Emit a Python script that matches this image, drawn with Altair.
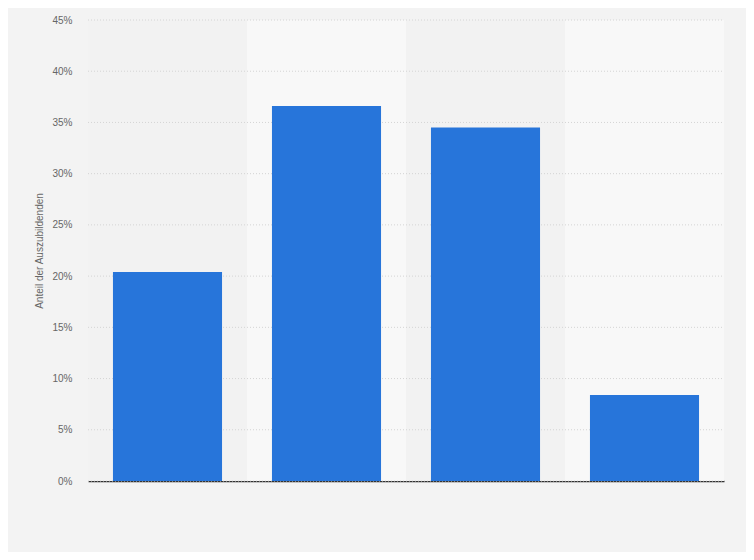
import altair as alt
import pandas as pd

categories = ["A", "B", "C", "D"]
values = [0.204, 0.366, 0.345, 0.084]
band_index = [0, 1, 2, 3]
band_colors = ["#f2f2f2", "#f8f8f8", "#f2f2f2", "#f8f8f8"]
y_ticks = [0, 0.05, 0.10, 0.15, 0.20, 0.25, 0.30, 0.35, 0.40, 0.45]

df = pd.DataFrame({"cat": categories, "val": values})
bands = pd.DataFrame({"i": band_index, "i2": [i + 1 for i in band_index], "c": band_colors,
                      "y0": [0.0] * 4, "y1": [0.45] * 4})
grid = pd.DataFrame({"t": y_ticks})

yscale = alt.Scale(domain=[0, 0.45], nice=False)
yaxis = alt.Axis(
    values=y_ticks, format=".0%", title="Anteil der Auszubildenden",
    ticks=False, domain=False, labelPadding=16, grid=False,
    labelFont="Liberation Sans", labelFontSize=10, labelColor="#666666",
    titleFont="Liberation Sans", titleFontSize=10, titleColor="#666666",
    titleFontWeight="normal", titleX=-44,
)

bg = alt.Chart(bands).mark_rect().encode(
    x=alt.X("i:Q", scale=alt.Scale(domain=[0, 4], nice=False), axis=None),
    x2="i2:Q",
    y=alt.Y("y0:Q", scale=yscale, axis=yaxis),
    y2="y1:Q",
    color=alt.Color("c:N", scale=None),
)

gridlines = alt.Chart(grid).mark_rule(color="#d4d4d4", strokeDash=[1, 2], strokeWidth=1).encode(
    y=alt.Y("t:Q", scale=yscale, axis=yaxis),
    x=alt.value(0),
    x2=alt.value(636),
)

bars = alt.Chart(df).mark_bar(color="#2775da").encode(
    x=alt.X(
        "cat:N",
        sort=categories,
        scale=alt.Scale(paddingInner=0.314, paddingOuter=0.157),
        axis=alt.Axis(
            labels=False, ticks=False, title=None, grid=False,
            domainColor="#333333", domainWidth=1.5,
        ),
    ),
    y=alt.Y("val:Q", scale=yscale, axis=yaxis),
)

chart = (
    alt.layer(bg, gridlines, bars)
    .resolve_scale(x="independent")
    .properties(
        width=636, height=461,
        autosize=alt.AutoSizeParams(type="none"),
        padding={"left": 80, "top": 12, "right": 22, "bottom": 71},
        background="#f3f3f3",
    )
    .configure_view(stroke=None)
)

chart.save("out.html", embed_options={"renderer": "svg", "actions": False})
